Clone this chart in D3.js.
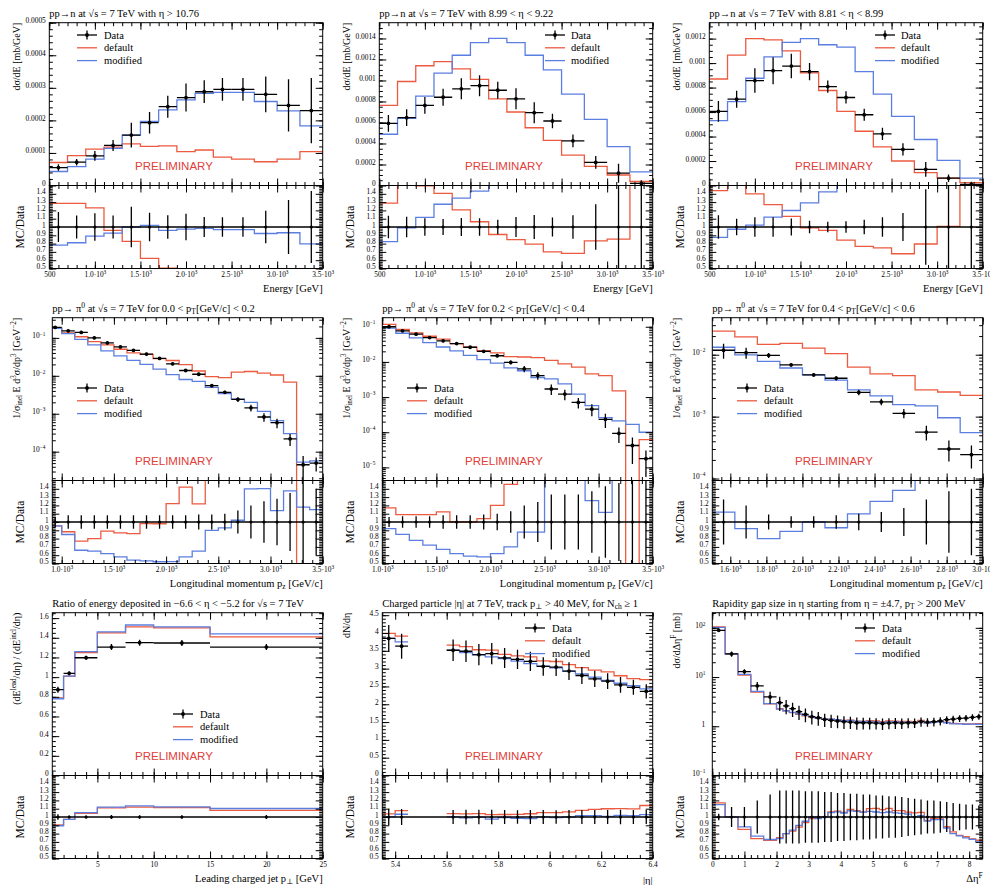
<!DOCTYPE html>
<html>
<head>
<meta charset="utf-8">
<script src="https://cdn.jsdelivr.net/npm/d3@7"></script>
<style>
body { margin: 0; background: #fff; }
svg text { font-family: "Liberation Serif", "DejaVu Serif", serif; fill: #000; }
</style>
</head>
<body>
<script>
// ---------- data ----------

// pp -> n, neutron energy spectra (top row)
var nEdges = [500, 700, 900, 1100, 1300, 1500, 1700, 1900, 2100, 2300, 2500, 2750, 3000, 3250, 3500];

var nEtaA_data = [0.000055, 0.0000716, 0.000091, 0.000123, 0.000155, 0.000193, 0.000242, 0.00027, 0.000288, 0.000295, 0.000295, 0.00028, 0.000246, 0.00023];
var nEtaA_err = [0.00001, 0.00001, 0.000015, 0.000017, 0.000038, 0.000033, 0.000034, 0.000043, 0.000035, 0.000035, 0.000035, 0.000055, 0.00008, 0.0001];
var nEtaA_default = [0.0000706, 0.000092, 0.000112, 0.000118, 0.000128, 0.00012, 0.000122, 0.000104, 0.000109, 0.000087, 0.000081, 0.000073, 0.000081, 0.000104];
var nEtaA_modified = [0.000043, 0.000058, 0.000081, 0.000114, 0.000155, 0.000197, 0.000232, 0.000263, 0.000283, 0.000286, 0.000286, 0.000258, 0.000229, 0.000183];

var nEtaB_data = [0.000592, 0.000646, 0.000762, 0.00084, 0.00092, 0.00095, 0.000907, 0.000825, 0.000693, 0.000614, 0.000425, 0.00022, 0.000117, 0.00002];
var nEtaB_err = [0.00008, 0.00008, 0.00008, 0.00008, 0.0001, 0.0001, 0.00008, 0.0001, 0.0001, 0.00007, 0.00006, 0.00006, 0.00009, 0.00003];
var nEtaB_default = [0.000762, 0.00099, 0.00114, 0.00118, 0.00111, 0.00101, 0.000825, 0.0007, 0.00055, 0.00043, 0.00029, 0.000183, 0.0001, 0.000038];
var nEtaB_modified = [0.000488, 0.00064, 0.00085, 0.00107, 0.00124, 0.00136, 0.0014, 0.00136, 0.00124, 0.0011, 0.00087, 0.00063, 0.00037, 0.00013];

var nEtaC_data = [0.000605, 0.000705, 0.000857, 0.000938, 0.000976, 0.00093, 0.000808, 0.000719, 0.000578, 0.000422, 0.000295, 0.000132, 0.0000595, 0.00001];
var nEtaC_err = [0.000085, 0.00007, 0.0001, 0.00011, 0.0001, 0.00007, 0.00005, 0.00005, 0.00005, 0.00005, 0.00005, 0.00006, 0.00003, 0.00002];
var nEtaC_default = [0.00087, 0.001065, 0.0012, 0.00119, 0.0011, 0.00092, 0.000776, 0.000605, 0.000443, 0.000316, 0.0002, 0.000105, 0.00006, 0.000024];
var nEtaC_modified = [0.00053, 0.000686, 0.000876, 0.00105, 0.00117, 0.0012, 0.00115, 0.00113, 0.00093, 0.000746, 0.000565, 0.000376, 0.000205, 0.00006];

// pp -> pi0, longitudinal momentum spectra (middle row), relative errors
var pzEdgesA = [875, 1000, 1125, 1250, 1375, 1500, 1625, 1750, 1875, 2000, 2125, 2250, 2375, 2500, 2625, 2750, 2875, 3000, 3125, 3250, 3375, 3500];
var pzA_data = [0.188, 0.153, 0.139, 0.1, 0.0736, 0.0576, 0.047, 0.0375, 0.0288, 0.0207, 0.0138, 0.011, 0.0055, 0.00366, 0.00238, 0.00143, 0.00082, 0.00058, 0.000218, 0.0000452, 0.00005];
var pzA_relErr = [0.06, 0.08, 0.08, 0.08, 0.08, 0.08, 0.08, 0.08, 0.08, 0.08, 0.08, 0.09, 0.09, 0.1, 0.14, 0.2, 0.25, 0.28, 0.35, 0.7, 0.4];
var pzA_default = [0.179, 0.135, 0.107, 0.08, 0.0655, 0.0501, 0.0404, 0.0368, 0.0282, 0.0253, 0.0196, 0.0134, 0.0095, 0.009, 0.0125, 0.013, 0.0118, 0.0105, 0.0068, 0, 0];
var pzA_modified = [0.179, 0.13, 0.0917, 0.065, 0.0456, 0.0334, 0.0254, 0.0199, 0.015, 0.0108, 0.008, 0.00715, 0.00495, 0.0034, 0.00243, 0.002, 0.00115, 0.00066, 0.0003, 0.0000533, 0.0000575];

var pzEdgesB = [1000, 1125, 1250, 1375, 1500, 1625, 1750, 1875, 2000, 2125, 2250, 2375, 2500, 2625, 2750, 2875, 3000, 3125, 3250, 3375, 3500];
var pzB_data = [0.1, 0.0768, 0.0616, 0.0494, 0.0397, 0.0333, 0.0261, 0.02, 0.015, 0.0097, 0.00637, 0.0041, 0.0017, 0.00122, 0.000703, 0.000453, 0.000233, 0.0000927, 0.0000419, 0.0000177];
var pzB_relErr = [0.06, 0.07, 0.07, 0.07, 0.08, 0.08, 0.08, 0.09, 0.1, 0.13, 0.2, 0.24, 0.33, 0.33, 0.33, 0.37, 0.43, 0.47, 0.7, 0.7];
var pzB_default = [0.117, 0.0837, 0.0671, 0.0538, 0.0445, 0.0333, 0.0261, 0.0208, 0.018, 0.0141, 0.0138, 0.0132, 0.011, 0.0088, 0.0071, 0.0046, 0.0041, 0.0015, 0, 0.000062];
var pzB_modified = [0.092, 0.0653, 0.048, 0.0356, 0.0266, 0.0206, 0.0154, 0.0116, 0.0093, 0.0068, 0.0056, 0.0036, 0.0033, 0.00236, 0.00122, 0.00057, 0.00026, 0.00021, 0.000168, 0.0001];

var pzEdgesC = [1500, 1625, 1750, 1875, 2000, 2125, 2250, 2375, 2500, 2625, 2750, 2875, 3000];
var pzC_data = [0.0118, 0.0108, 0.00976, 0.00687, 0.00472, 0.00417, 0.00246, 0.00173, 0.00113, 0.000562, 0.0003, 0.000243];
var pzC_relErr = [0.27, 0.2, 0.09, 0.07, 0.07, 0.08, 0.1, 0.12, 0.17, 0.27, 0.37, 0.4];
var pzC_default = [0.024, 0.0194, 0.0147, 0.0152, 0.0128, 0.0104, 0.0063, 0.0049, 0.0046, 0.0027, 0.0025, 0.0022];
var pzC_modified = [0.0132, 0.00994, 0.0078, 0.0061, 0.00472, 0.00388, 0.0027, 0.00216, 0.00156, 0.00149, 0.00096, 0.00055];

// energy ratio vs leading charged jet pT
var jetEdges = [1, 2, 3, 5, 7.5, 10, 15, 25];
var jet_data = [0.872, 1.039, 1.197, 1.306, 1.35, 1.347, 1.306];
var jet_err = [0.03, 0.02, 0.02, 0.03, 0.03, 0.03, 0.03];
var jet_default = [0.79, 1.01, 1.25, 1.45, 1.51, 1.50, 1.41];
var jet_modified = [0.78, 1.01, 1.26, 1.46, 1.53, 1.51, 1.44];

// charged particle |eta| (two separate eta ranges)
var etaEdgesLow = [5.35, 5.40, 5.45];
var etaEdgesHigh = [5.60, 5.65, 5.70, 5.75, 5.80, 5.85, 5.90, 5.95, 6.00, 6.05, 6.10, 6.15, 6.20, 6.25, 6.30, 6.35, 6.40];
var eta_data = [3.847, 3.63, 3.516, 3.488, 3.393, 3.42, 3.30, 3.26, 3.204, 3.062, 3.043, 2.93, 2.807, 2.713, 2.647, 2.543, 2.476, 2.363];
var eta_err = [0.38, 0.35, 0.3, 0.3, 0.3, 0.3, 0.28, 0.27, 0.27, 0.26, 0.25, 0.25, 0.24, 0.23, 0.22, 0.22, 0.21, 0.2];
var eta_default = [3.99, 3.91, 3.66, 3.62, 3.53, 3.52, 3.40, 3.36, 3.33, 3.22, 3.20, 3.11, 3.03, 2.96, 2.91, 2.80, 2.72, 2.69];
var eta_modified = [3.85, 3.75, 3.52, 3.45, 3.39, 3.33, 3.28, 3.21, 3.14, 3.07, 3.02, 2.93, 2.85, 2.76, 2.67, 2.59, 2.52, 2.43];

// rapidity gap size, relative errors
var gapEdges = [0, 0.4, 0.8, 1.2, 1.6, 2.0, 2.2, 2.4, 2.6, 2.8, 3.0, 3.2, 3.4, 3.6, 3.8, 4.0, 4.2, 4.4, 4.6, 4.8, 5.0, 5.2, 5.4, 5.6, 5.8, 6.0, 6.2, 6.4, 6.6, 6.8, 7.0, 7.2, 7.4, 7.6, 7.8, 8.0, 8.2, 8.4];
var gap_data = [88.9, 29.5, 12.9, 6.65, 3.95, 3.02, 2.59, 2.28, 1.98, 1.75, 1.57, 1.49, 1.38, 1.32, 1.28, 1.24, 1.22, 1.18, 1.18, 1.18, 1.16, 1.14, 1.16, 1.18, 1.16, 1.18, 1.18, 1.24, 1.22, 1.24, 1.28, 1.36, 1.40, 1.45, 1.47, 1.52, 1.57];
var gap_relErr = [0.04, 0.12, 0.12, 0.2, 0.27, 0.32, 0.32, 0.32, 0.32, 0.31, 0.31, 0.31, 0.3, 0.3, 0.29, 0.29, 0.28, 0.28, 0.27, 0.27, 0.26, 0.26, 0.25, 0.25, 0.24, 0.23, 0.22, 0.21, 0.2, 0.2, 0.19, 0.18, 0.17, 0.16, 0.15, 0.15, 0.14];
var gap_default = [104, 29.5, 10.97, 4.92, 2.84, 2.27, 2.07, 1.89, 1.74, 1.63, 1.54, 1.49, 1.38, 1.40, 1.37, 1.31, 1.33, 1.27, 1.25, 1.30, 1.28, 1.24, 1.28, 1.27, 1.25, 1.25, 1.24, 1.31, 1.17, 1.22, 1.25, 1.20, 1.15, 1.13, 1.12, 1.12, 1.13];
var gap_modified = [102.2, 29.5, 11.35, 5.12, 2.88, 2.23, 2.07, 1.92, 1.78, 1.66, 1.57, 1.46, 1.38, 1.39, 1.36, 1.30, 1.31, 1.26, 1.25, 1.26, 1.23, 1.20, 1.23, 1.24, 1.21, 1.22, 1.18, 1.26, 1.16, 1.20, 1.24, 1.18, 1.12, 1.12, 1.10, 1.11, 1.10];

// ---------- tick labels and texts ----------
var energyTicks = [500, 1000, 1500, 2000, 2500, 3000, 3500];
var energyTickLabels = ['500', '1.0·10^{3}', '1.5·10^{3}', '2.0·10^{3}', '2.5·10^{3}', '3.0·10^{3}', '3.5·10^{3}'];
var pzTicks = [1000, 1500, 2000, 2500, 3000, 3500];
var pzTickLabels = ['1.0·10^{3}', '1.5·10^{3}', '2.0·10^{3}', '2.5·10^{3}', '3.0·10^{3}', '3.5·10^{3}'];
var pzFineTicks = [1600, 1800, 2000, 2200, 2400, 2600, 2800, 3000];
var pzFineTickLabels = ['1.6·10^{3}', '1.8·10^{3}', '2.0·10^{3}', '2.2·10^{3}', '2.4·10^{3}', '2.6·10^{3}', '2.8·10^{3}', '3.0·10^{3}'];
var jetTicks = [5, 10, 15, 20, 25];
var jetTickLabels = ['5', '10', '15', '20', '25'];
var etaTicks = [5.4, 5.6, 5.8, 6.0, 6.2, 6.4];
var etaTickLabels = ['5.4', '5.6', '5.8', '6', '6.2', '6.4'];
var gapTicks = [0, 1, 2, 3, 4, 5, 6, 7, 8];
var gapTickLabels = ['0', '1', '2', '3', '4', '5', '6', '7', '8'];
var ratioTicks = [0.5, 0.6, 0.7, 0.8, 0.9, 1.0, 1.1, 1.2, 1.3, 1.4];
var ratioTickLabels = ['0.5', '0.6', '0.7', '0.8', '0.9', '1', '1.1', '1.2', '1.3', '1.4'];

var yTicksA = [0, 0.0001, 0.0002, 0.0003, 0.0004, 0.0005];
var yTickLabelsA = ['0', '0.0001', '0.0002', '0.0003', '0.0004', '0.0005'];
var yTicksB = [0, 0.0002, 0.0004, 0.0006, 0.0008, 0.001, 0.0012, 0.0014];
var yTickLabelsB = ['0', '0.0002', '0.0004', '0.0006', '0.0008', '0.001', '0.0012', '0.0014'];
var yTicksC = [0, 0.0002, 0.0004, 0.0006, 0.0008, 0.001, 0.0012];
var yTickLabelsC = ['0', '0.0002', '0.0004', '0.0006', '0.0008', '0.001', '0.0012'];
var yTicksLog = [0.1, 0.01, 0.001, 0.0001, 0.00001];
var yTickLabelsLog = ['10^{−1}', '10^{−2}', '10^{−3}', '10^{−4}', '10^{−5}'];
var yTicksJet = [0, 0.2, 0.4, 0.6, 0.8, 1, 1.2, 1.4, 1.6];
var yTickLabelsJet = ['0', '0.2', '0.4', '0.6', '0.8', '1', '1.2', '1.4', '1.6'];
var yTicksEta = [0, 0.5, 1, 1.5, 2, 2.5, 3, 3.5, 4, 4.5];
var yTickLabelsEta = ['0', '0.5', '1', '1.5', '2', '2.5', '3', '3.5', '4', '4.5'];
var yTicksGap = [100, 10, 1, 0.1];
var yTickLabelsGap = ['10^{2}', '10^{1}', '1', '10^{−1}'];

var titles = [
  'pp→n at √s = 7 TeV with η > 10.76',
  'pp→n at √s = 7 TeV with 8.99 < η < 9.22',
  'pp→n at √s = 7 TeV with 8.81 < η < 8.99',
  'pp→ π^{0} at √s = 7 TeV for 0.0 < p_{T}[GeV/c] < 0.2',
  'pp→ π^{0} at √s = 7 TeV for 0.2 < p_{T}[GeV/c] < 0.4',
  'pp→ π^{0} at √s = 7 TeV for 0.4 < p_{T}[GeV/c] < 0.6',
  'Ratio of energy deposited in −6.6 < η < −5.2 for √s = 7 TeV',
  'Charged particle |η| at 7 TeV, track p_{⊥} > 40 MeV, for N_{ch} ≥ 1',
  'Rapidity gap size in η starting from η = ±4.7, p_{T} > 200 MeV'
];
var legendNames = ['Data', 'default', 'modified'];

// ---------- layout ----------
var RED = '#ec5a3f', BLUE = '#5b7fe0', PRELIM = '#e0403a';
var cellW = 330, cellH = 295;
var frameTop = 22.7, frameSplit = 185.5, frameBottom = 268.5, frameRight = 322.7;

function makeBins(edges) {
  return d3.pairs(edges);
}

function logMinor(domain) {
  var out = [];
  var k0 = Math.floor(Math.log10(domain[0])), k1 = Math.ceil(Math.log10(domain[1]));
  for (var k = k0; k <= k1; k++) {
    for (var m = 1; m <= 9; m++) {
      var v = m * Math.pow(10, k);
      if (v >= domain[0] && v <= domain[1]) out.push(v);
    }
  }
  return out;
}

function inDomain(vals, dom) {
  return vals.filter(function(v) { return v >= dom[0] - 1e-9 && v <= dom[1] + 1e-9; });
}

// tiny markup: ^{..} superscript, _{..} subscript
function rich(sel, str, size) {
  var parts = str.split(/(\^\{[^}]*\}|_\{[^}]*\})/);
  var shift = 0;
  parts.forEach(function(part) {
    if (!part) return;
    var target = 0, txt = part, fs = size;
    if (part.indexOf('^{') === 0) { target = -0.38 * size; txt = part.slice(2, -1); fs = size * 0.72; }
    else if (part.indexOf('_{') === 0) { target = 0.22 * size; txt = part.slice(2, -1); fs = size * 0.72; }
    sel.append('tspan').attr('dy', target - shift).attr('font-size', fs).text(txt);
    shift = target;
  });
}

var panels = [
  {col: 0, row: 0, left: 49.3, title: titles[0], xDomain: [500, 3500], yDomain: [0, 0.0005], log: false,
   xTicks: energyTicks, xLabels: energyTickLabels, xMinor: d3.range(500, 3501, 100),
   yTicks: yTicksA, yLabels: yTickLabelsA, yMinor: d3.range(0, 0.000501, 0.00002),
   yTitle: 'dσ/dE [mb/GeV]', xTitle: 'Energy [GeV]',
   bins: makeBins(nEdges), data: nEtaA_data, err: nEtaA_err, rel: false, def: nEtaA_default, mod: nEtaA_modified,
   legend: [77, 104, 35]},
  {col: 1, row: 0, left: 49.3, title: titles[1], xDomain: [500, 3500], yDomain: [0, 0.00155], log: false,
   xTicks: energyTicks, xLabels: energyTickLabels, xMinor: d3.range(500, 3501, 100),
   yTicks: yTicksB, yLabels: yTickLabelsB, yMinor: d3.range(0, 0.00155, 0.00005),
   yTitle: 'dσ/dE [mb/GeV]', xTitle: 'Energy [GeV]',
   bins: makeBins(nEdges), data: nEtaB_data, err: nEtaB_err, rel: false, def: nEtaB_default, mod: nEtaB_modified,
   legend: [215, 241, 35]},
  {col: 2, row: 0, left: 49.3, title: titles[2], xDomain: [500, 3500], yDomain: [0, 0.00133], log: false,
   xTicks: energyTicks, xLabels: energyTickLabels, xMinor: d3.range(500, 3501, 100),
   yTicks: yTicksC, yLabels: yTickLabelsC, yMinor: d3.range(0, 0.00133, 0.00005),
   yTitle: 'dσ/dE [mb/GeV]', xTitle: 'Energy [GeV]',
   bins: makeBins(nEdges), data: nEtaC_data, err: nEtaC_err, rel: false, def: nEtaC_default, mod: nEtaC_modified,
   legend: [215, 241, 35]},
  {col: 0, row: 1, left: 52.3, title: titles[3], xDomain: [910, 3500], yDomain: [1.74e-5, 0.34], log: true,
   xTicks: pzTicks, xLabels: pzTickLabels, xMinor: d3.range(1000, 3501, 100),
   yTicks: yTicksLog, yLabels: yTickLabelsLog,
   yTitle: '1/σ_{inel} E d^{3}σ/dp^{3} [GeV^{−2}]', xTitle: 'Longitudinal momentum p_{z} [GeV/c]',
   bins: makeBins(pzEdgesA), data: pzA_data, err: pzA_relErr, rel: true, def: pzA_default, mod: pzA_modified,
   legend: [77, 104, 93]},
  {col: 1, row: 1, left: 52.3, title: titles[4], xDomain: [1000, 3500], yDomain: [4.24e-6, 0.181], log: true,
   xTicks: pzTicks, xLabels: pzTickLabels, xMinor: d3.range(1000, 3501, 100),
   yTicks: yTicksLog, yLabels: yTickLabelsLog,
   yTitle: '1/σ_{inel} E d^{3}σ/dp^{3} [GeV^{−2}]', xTitle: 'Longitudinal momentum p_{z} [GeV/c]',
   bins: makeBins(pzEdgesB), data: pzB_data, err: pzB_relErr, rel: true, def: pzB_default, mod: pzB_modified,
   legend: [77, 104, 93]},
  {col: 2, row: 1, left: 52.3, title: titles[5], xDomain: [1500, 3000], yDomain: [9.3e-5, 0.0396], log: true,
   xTicks: pzFineTicks, xLabels: pzFineTickLabels, xMinor: d3.range(1500, 3001, 50),
   yTicks: yTicksLog, yLabels: yTickLabelsLog,
   yTitle: '1/σ_{inel} E d^{3}σ/dp^{3} [GeV^{−2}]', xTitle: 'Longitudinal momentum p_{z} [GeV/c]',
   bins: makeBins(pzEdgesC), data: pzC_data, err: pzC_relErr, rel: true, def: pzC_default, mod: pzC_modified,
   legend: [77, 104, 93]},
  {col: 0, row: 2, left: 52.3, title: titles[6], xDomain: [1, 25], yDomain: [0, 1.655], log: false,
   xTicks: jetTicks, xLabels: jetTickLabels, xMinor: d3.range(1, 26, 1),
   yTicks: yTicksJet, yLabels: yTickLabelsJet, yMinor: d3.range(0, 1.656, 0.05),
   yTitle: '(dE^{lead}/dη) / (dE^{incl}/dη)', xTitle: 'Leading charged jet p_{⊥} [GeV]',
   bins: makeBins(jetEdges), data: jet_data, err: jet_err, rel: false, def: jet_default, mod: jet_modified,
   legend: [173, 200, 124]},
  {col: 1, row: 2, left: 52.3, title: titles[7], xDomain: [5.35, 6.4], yDomain: [0, 4.57], log: false,
   xTicks: etaTicks, xLabels: etaTickLabels, xMinor: d3.range(5.35, 6.401, 0.05),
   yTicks: yTicksEta, yLabels: yTickLabelsEta, yMinor: d3.range(0, 4.57, 0.1),
   yTitle: 'dN/dη', xTitle: '|η|', xTitleDy: 2,
   bins: makeBins(etaEdgesLow).concat(makeBins(etaEdgesHigh)), data: eta_data, err: eta_err, rel: false, def: eta_default, mod: eta_modified,
   legend: [195, 222, 38]},
  {col: 2, row: 2, left: 52.3, title: titles[8], xDomain: [0, 8.42], yDomain: [0.1, 203], log: true,
   xTicks: gapTicks, xLabels: gapTickLabels, xMinor: d3.range(0, 8.42, 0.2),
   yTicks: yTicksGap, yLabels: yTickLabelsGap,
   yTitle: 'dσ/dΔη^{F} [mb]', xTitle: 'Δη^{F}',
   bins: makeBins(gapEdges), data: gap_data, err: gap_relErr, rel: true, def: gap_default, mod: gap_modified,
   legend: [195, 222, 38]}
];

var svg = d3.select('body').append('svg').attr('width', 990).attr('height', 885);
var defs = svg.append('defs');

function stepPath(bins, values, x, y) {
  var d = '', prevHi = null;
  values.forEach(function(v, i) {
    var x0 = x(bins[i][0]), x1 = x(bins[i][1]), yy = y(v);
    d += (prevHi !== null && Math.abs(prevHi - bins[i][0]) < 1e-9 ? 'L' : 'M') + x0 + ',' + yy;
    d += 'L' + x1 + ',' + yy;
    prevHi = bins[i][1];
  });
  return d;
}

function tickAxis(g, axisFn, scale, values, size, transform, labels, fontSize, pad) {
  var ax = axisFn(scale).tickValues(values).tickSize(-size).tickPadding(pad || 3)
    .tickFormat(labels ? function(d, i) { return labels[i]; } : '');
  var a = g.append('g').attr('transform', transform).call(ax);
  a.select('.domain').remove();
  a.selectAll('line').attr('stroke', '#000').attr('stroke-width', 1);
  if (labels) {
    a.attr('font-size', fontSize).attr('font-family', '"Liberation Serif", "DejaVu Serif", serif');
    a.selectAll('text').each(function() {
      var s = this.textContent;
      var t = d3.select(this).text(null);
      rich(t, s, fontSize);
    });
  } else {
    a.selectAll('text').remove();
  }
  return a;
}

function drawPanel(p, k) {
  var g = svg.append('g').attr('transform', 'translate(' + (p.col * cellW) + ',' + (p.row * cellH) + ')');
  var x = d3.scaleLinear().domain(p.xDomain).range([p.left, frameRight]);
  var y = (p.log ? d3.scaleLog() : d3.scaleLinear()).domain(p.yDomain).range([frameSplit, frameTop]);
  var yr = d3.scaleLinear().domain([0.5, 1.5]).range([frameBottom, frameSplit]);
  var yv = function(v) { return (p.log && v <= 0) ? frameSplit + 300 : Math.max(-500, Math.min(900, y(v))); };
  var yrv = function(v) { return Math.max(-500, Math.min(900, yr(v))); };
  var w = frameRight - p.left;

  defs.append('clipPath').attr('id', 'cm' + k).append('rect')
    .attr('x', p.left).attr('y', frameTop).attr('width', w).attr('height', frameSplit - frameTop);
  defs.append('clipPath').attr('id', 'cr' + k).append('rect')
    .attr('x', p.left).attr('y', frameSplit).attr('width', w).attr('height', frameBottom - frameSplit);

  var pts = p.data.map(function(v, i) {
    var e = p.rel ? v * p.err[i] : p.err[i];
    return {lo: p.bins[i][0], hi: p.bins[i][1], xc: (p.bins[i][0] + p.bins[i][1]) / 2, v: v, e: e};
  });

  // main panel
  var mg = g.append('g').attr('clip-path', 'url(#cm' + k + ')');
  [[p.def, RED], [p.mod, BLUE]].forEach(function(s) {
    mg.append('path').attr('d', stepPath(p.bins, s[0], x, yv))
      .attr('fill', 'none').attr('stroke', s[1]).attr('stroke-width', 1.3);
  });
  var pg = mg.selectAll('g.pt').data(pts).join('g').attr('class', 'pt');
  pg.append('line')
    .attr('x1', function(d) { return x(d.lo); }).attr('x2', function(d) { return x(d.hi); })
    .attr('y1', function(d) { return yv(d.v); }).attr('y2', function(d) { return yv(d.v); });
  pg.append('line')
    .attr('x1', function(d) { return x(d.xc); }).attr('x2', function(d) { return x(d.xc); })
    .attr('y1', function(d) { return yv(Math.max(d.v - d.e, p.log ? p.yDomain[0] * 0.5 : d.v - d.e)); })
    .attr('y2', function(d) { return yv(d.v + d.e); });
  pg.selectAll('line').attr('stroke', '#000').attr('stroke-width', 1.3);
  pg.append('circle').attr('cx', function(d) { return x(d.xc); }).attr('cy', function(d) { return yv(d.v); })
    .attr('r', 1.9).attr('fill', '#000');

  // ratio panel
  var rg = g.append('g').attr('clip-path', 'url(#cr' + k + ')');
  [[p.def, RED], [p.mod, BLUE]].forEach(function(s) {
    var r = s[0].map(function(v, i) { return v / p.data[i]; });
    rg.append('path').attr('d', stepPath(p.bins, r, x, yrv))
      .attr('fill', 'none').attr('stroke', s[1]).attr('stroke-width', 1.3);
  });
  rg.append('line').attr('x1', p.left).attr('x2', frameRight).attr('y1', yr(1)).attr('y2', yr(1))
    .attr('stroke', '#000').attr('stroke-width', 1.4);
  var rp = rg.selectAll('g.rp').data(pts).join('g').attr('class', 'rp');
  rp.append('line')
    .attr('x1', function(d) { return x(d.xc); }).attr('x2', function(d) { return x(d.xc); })
    .attr('y1', function(d) { return yrv(1 - d.e / d.v); }).attr('y2', function(d) { return yrv(1 + d.e / d.v); })
    .attr('stroke', '#000').attr('stroke-width', 1.3);
  rp.append('circle').attr('cx', function(d) { return x(d.xc); }).attr('cy', yr(1)).attr('r', 1.6).attr('fill', '#000');

  // frames
  g.append('rect').attr('x', p.left).attr('y', frameTop).attr('width', w).attr('height', frameSplit - frameTop)
    .attr('fill', 'none').attr('stroke', '#000').attr('stroke-width', 1);
  g.append('rect').attr('x', p.left).attr('y', frameSplit).attr('width', w).attr('height', frameBottom - frameSplit)
    .attr('fill', 'none').attr('stroke', '#000').attr('stroke-width', 1);

  // ticks, inward on all four sides
  var xMaj = inDomain(p.xTicks, p.xDomain), xMin = inDomain(p.xMinor, p.xDomain);
  var xLab = p.xLabels.filter(function(l, i) { return p.xTicks[i] >= p.xDomain[0] - 1e-9 && p.xTicks[i] <= p.xDomain[1] + 1e-9; });
  var yMaj = inDomain(p.yTicks, p.yDomain);
  var yLab = p.yLabels.filter(function(l, i) { return p.yTicks[i] >= p.yDomain[0] - 1e-12 && p.yTicks[i] <= p.yDomain[1] * 1.0001; });
  var yMin = p.log ? logMinor(p.yDomain) : inDomain(p.yMinor, p.yDomain);
  var rMin = d3.range(0.5, 1.501, 0.02);

  tickAxis(g, d3.axisTop, x, xMaj, 7, 'translate(0,' + frameTop + ')');
  tickAxis(g, d3.axisTop, x, xMin, 3.5, 'translate(0,' + frameTop + ')');
  tickAxis(g, d3.axisBottom, x, xMaj, 7, 'translate(0,' + frameSplit + ')');
  tickAxis(g, d3.axisBottom, x, xMin, 3.5, 'translate(0,' + frameSplit + ')');
  tickAxis(g, d3.axisTop, x, xMaj, 7, 'translate(0,' + frameSplit + ')');
  tickAxis(g, d3.axisTop, x, xMin, 3.5, 'translate(0,' + frameSplit + ')');
  tickAxis(g, d3.axisBottom, x, xMin, 3.5, 'translate(0,' + frameBottom + ')');
  tickAxis(g, d3.axisBottom, x, xMaj, 7, 'translate(0,' + frameBottom + ')', xLab, 7.4, 8.5);

  tickAxis(g, d3.axisLeft, y, yMin, 3.5, 'translate(' + p.left + ',0)');
  tickAxis(g, d3.axisLeft, y, yMaj, 7, 'translate(' + p.left + ',0)', yLab, 7.4, p.log ? 7 : 3.5);
  tickAxis(g, d3.axisRight, y, yMin, 3.5, 'translate(' + frameRight + ',0)');
  tickAxis(g, d3.axisRight, y, yMaj, 7, 'translate(' + frameRight + ',0)');

  tickAxis(g, d3.axisLeft, yr, rMin, 3.5, 'translate(' + p.left + ',0)');
  tickAxis(g, d3.axisLeft, yr, ratioTicks, 7, 'translate(' + p.left + ',0)', ratioTickLabels, 7.4, 3.5);
  tickAxis(g, d3.axisRight, yr, rMin, 3.5, 'translate(' + frameRight + ',0)');
  tickAxis(g, d3.axisRight, yr, ratioTicks, 7, 'translate(' + frameRight + ',0)');

  // texts
  rich(g.append('text').attr('x', p.left).attr('y', 16.5).attr('font-size', 10.5), p.title, 10.5);
  rich(g.append('text').attr('transform', 'translate(20,' + frameTop + ') rotate(-90)')
    .attr('text-anchor', 'end').attr('font-size', 10), p.yTitle, 10);
  g.append('text').attr('transform', 'translate(24,' + yr(1) + ') rotate(-90)')
    .attr('text-anchor', 'middle').attr('font-size', 11.5).text('MC/Data');
  rich(g.append('text').attr('x', frameRight).attr('y', frameBottom + 23 + (p.xTitleDy || 0))
    .attr('text-anchor', 'end').attr('font-size', 10.5), p.xTitle, 10.5);

  g.append('text').attr('x', 174).attr('y', 169.5).attr('text-anchor', 'middle')
    .style('font-family', '"Liberation Sans", Arial, sans-serif')
    .style('fill', PRELIM).attr('font-size', 11.5).text('PRELIMINARY');

  // legend
  var lx = p.legend[0], tx = p.legend[1], ly = p.legend[2], step = 12.8;
  var lg = g.append('g');
  lg.append('line').attr('x1', lx).attr('x2', lx + 20).attr('y1', ly).attr('y2', ly).attr('stroke', '#000').attr('stroke-width', 1.3);
  lg.append('line').attr('x1', lx + 10).attr('x2', lx + 10).attr('y1', ly - 4.5).attr('y2', ly + 4.5).attr('stroke', '#000').attr('stroke-width', 1.3);
  lg.append('circle').attr('cx', lx + 10).attr('cy', ly).attr('r', 1.9).attr('fill', '#000');
  lg.append('line').attr('x1', lx).attr('x2', lx + 20).attr('y1', ly + step).attr('y2', ly + step).attr('stroke', RED).attr('stroke-width', 1.3);
  lg.append('line').attr('x1', lx).attr('x2', lx + 20).attr('y1', ly + 2 * step).attr('y2', ly + 2 * step).attr('stroke', BLUE).attr('stroke-width', 1.3);
  legendNames.forEach(function(n, i) {
    lg.append('text').attr('x', tx).attr('y', ly + i * step + 3.5).attr('font-size', 10.5).text(n);
  });
}

panels.forEach(drawPanel);
</script>
</body>
</html>
